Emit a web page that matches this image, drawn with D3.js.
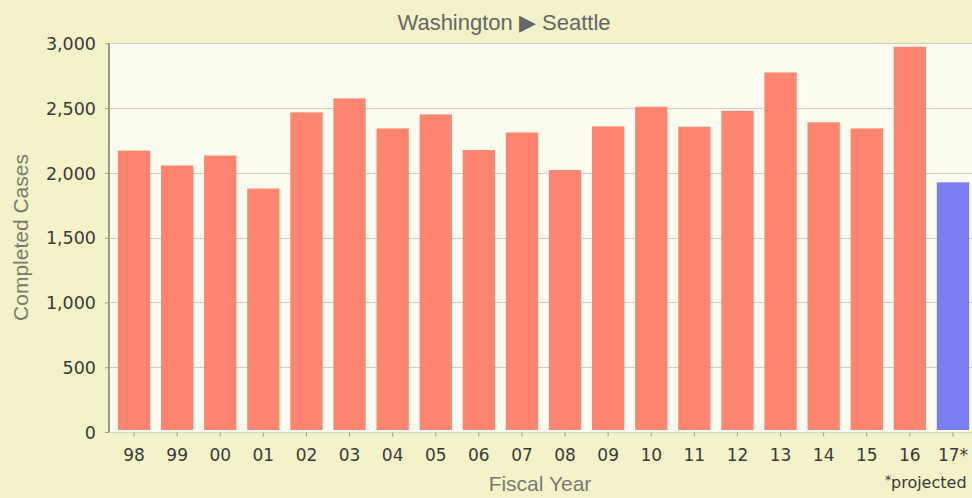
<!DOCTYPE html>
<html>
<head>
<meta charset="utf-8">
<script src="https://cdn.jsdelivr.net/npm/d3@7"></script>
<style>
  body { margin: 0; background: #f4f2c9; }
  svg { display: block; }
</style>
</head>
<body>
<div id="chart"></div>
<script>
// fiscal years and completed cases (last one is projected)
const years = ["98", "99", "00", "01", "02", "03", "04", "05", "06", "07",
               "08", "09", "10", "11", "12", "13", "14", "15", "16", "17*"];
const cases = [2172, 2057, 2134, 1879, 2467, 2575, 2343, 2451, 2176, 2312,
               2022, 2359, 2510, 2356, 2479, 2775, 2390, 2343, 2973, 1927];
const projected = [false, false, false, false, false, false, false, false, false, false,
                   false, false, false, false, false, false, false, false, false, true];
const yTicks = [0, 500, 1000, 1500, 2000, 2500, 3000];

const width = 972;
const height = 498;
const margin = { top: 43, right: 0, bottom: 66, left: 110 };

const svg = d3.select("#chart")
    .append("svg")
    .attr("width", width)
    .attr("height", height);

const x = d3.scaleBand()
    .domain(years)
    .range([margin.left + 2.5, width + 2.5])
    .paddingInner(0.25)
    .paddingOuter(0.125);

const y = d3.scaleLinear()
    .domain([0, 3000])
    .range([height - margin.bottom, margin.top + 0.3]);

// plot background
svg.append("rect")
    .attr("x", margin.left)
    .attr("y", margin.top)
    .attr("width", width - margin.left)
    .attr("height", y(0) - margin.top)
    .attr("fill", "#fdfcf0");

// grid lines
svg.append("g")
    .selectAll("line")
    .data(yTicks.filter(d => d > 0))
    .enter().append("line")
    .attr("x1", margin.left)
    .attr("x2", width)
    .attr("y1", d => Math.round(y(d)) + 0.5)
    .attr("y2", d => Math.round(y(d)) + 0.5)
    .attr("stroke", "#cfcdc0")
    .attr("stroke-width", 1);

// bars
svg.append("g")
    .selectAll("rect")
    .data(years)
    .enter().append("rect")
    .attr("x", d => x(d))
    .attr("width", x.bandwidth())
    .attr("y", (d, i) => y(cases[i]))
    .attr("height", (d, i) => y(0) - 2 - y(cases[i]))
    .attr("fill", (d, i) => projected[i] ? "#7b7ef2" : "#fe8670");

// y axis
const yAxis = svg.append("g")
    .attr("transform", `translate(${margin.left - 1},0)`)
    .call(d3.axisLeft(y).tickValues(yTicks).tickSize(4).tickPadding(9).tickFormat(d3.format(",")));
yAxis.select(".domain").attr("stroke", "#9a9a8a").attr("stroke-width", 2).attr("d", `M0,${margin.top}V${y(0)}`);
yAxis.selectAll(".tick line").attr("stroke", "#9a9a8a");
yAxis.selectAll(".tick text")
    .attr("fill", "#3a3a3a")
    .attr("dy", "0.36em")
    .style("font-family", "DejaVu Sans, Verdana, sans-serif")
    .style("font-size", "17.5px");

// x axis
const xAxis = svg.append("g")
    .attr("transform", `translate(0,${y(0) + 0.5})`)
    .call(d3.axisBottom(x).tickSize(4).tickPadding(12));
xAxis.select(".domain").attr("stroke", "#bfe0d0").attr("d", `M${margin.left},0H${width}`);
xAxis.selectAll(".tick line").attr("stroke", "#9a9a8a");
xAxis.selectAll(".tick text")
    .attr("fill", "#3a3a3a")
    .style("font-family", "DejaVu Sans, Verdana, sans-serif")
    .style("font-size", "17px");

// title
svg.append("text")
    .attr("x", 504)
    .attr("y", 30)
    .attr("text-anchor", "middle")
    .attr("fill", "#666")
    .style("font-family", "Liberation Sans, Arial, sans-serif")
    .style("font-size", "22px")
    .text("Washington \u25B6 Seattle");

// axis titles
svg.append("text")
    .attr("transform", `translate(28,${(margin.top + y(0)) / 2}) rotate(-90)`)
    .attr("text-anchor", "middle")
    .attr("fill", "#7a7a70")
    .style("font-family", "Liberation Sans, Arial, sans-serif")
    .style("font-size", "21px")
    .text("Completed Cases");

svg.append("text")
    .attr("x", 540)
    .attr("y", 491)
    .attr("text-anchor", "middle")
    .attr("fill", "#7a7a70")
    .style("font-family", "Liberation Sans, Arial, sans-serif")
    .style("font-size", "21px")
    .text("Fiscal Year");

const note = svg.append("text")
    .attr("x", 885)
    .attr("y", 488)
    .attr("fill", "#3a3a3a")
    .style("font-family", "DejaVu Sans, Verdana, sans-serif")
    .style("font-size", "16px");
note.append("tspan").attr("dy", "-4").style("font-size", "12px").text("*");
note.append("tspan").attr("dy", "4").text("projected");
</script>
</body>
</html>
